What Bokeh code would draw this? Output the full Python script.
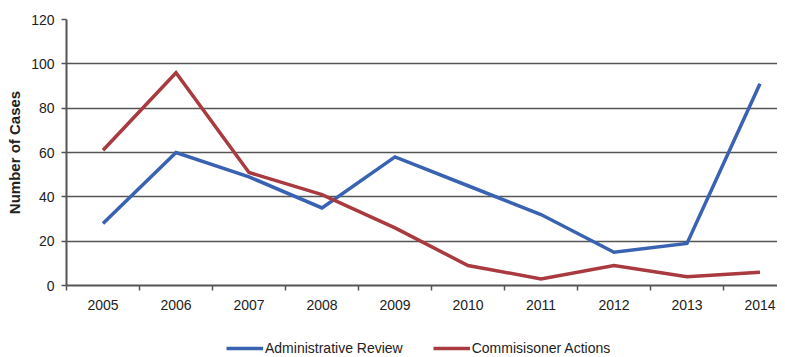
from bokeh.plotting import figure
from bokeh.models import FixedTicker, Legend, LegendItem, Range1d
from bokeh.layouts import column
from bokeh.embed import file_html
from bokeh.resources import INLINE

years = [2005, 2006, 2007, 2008, 2009, 2010, 2011, 2012, 2013, 2014]
admin_review = [28, 60, 49, 35, 58, 45, 32, 15, 19, 91]
commissioner_actions = [61, 96, 51, 41, 26, 9, 3, 9, 4, 6]
y_ticks = [0, 20, 40, 60, 80, 100, 120]
series_names = ["Administrative Review", "Commisisoner Actions"]
series_colors = ["#3a62b2", "#a83a40"]

p = figure(width=777, height=315, output_backend="svg", toolbar_location=None,
           x_range=Range1d(2004.5, 2014.24), y_range=Range1d(0, 120),
           min_border_left=66, min_border_top=19, min_border_right=0,
           min_border_bottom=30)
p.outline_line_color = None
p.background_fill_color = "white"
p.border_fill_color = "white"

p.line(years, admin_review, line_color=series_colors[0], line_width=3.5, line_join="miter")
p.line(years, commissioner_actions, line_color=series_colors[1], line_width=3.5, line_join="miter")

font = "Liberation Sans"
p.xaxis.ticker = FixedTicker(ticks=years, minor_ticks=[y - 0.5 for y in years] + [2014.5])
p.xaxis.major_tick_out = 0
p.xaxis.major_tick_in = 0
p.xaxis.minor_tick_out = 5
p.xaxis.minor_tick_in = 0
p.xaxis.minor_tick_line_color = "#555555"
p.xaxis.minor_tick_line_width = 1.5
p.xaxis.major_label_standoff = 9

p.yaxis.ticker = FixedTicker(ticks=y_ticks, minor_ticks=[])
p.yaxis.major_tick_out = 5
p.yaxis.major_tick_in = 0
p.yaxis.major_label_standoff = 7
p.yaxis.axis_label = "Number of Cases"
p.yaxis.axis_label_text_font_style = "bold"
p.yaxis.axis_label_standoff = 5

for ax in (p.xaxis[0], p.yaxis[0]):
    ax.axis_line_color = "#555555"
    ax.axis_line_width = 2
    ax.major_tick_line_color = "#555555"
    ax.major_tick_line_width = 1.5
    ax.major_label_text_font = font
    ax.major_label_text_font_size = "14px"
    ax.major_label_text_color = "#222222"
    ax.axis_label_text_font = font
    ax.axis_label_text_font_size = "15px"
    ax.axis_label_text_color = "#222222"

p.xgrid.grid_line_color = None
p.ygrid.ticker = FixedTicker(ticks=y_ticks)
p.ygrid.grid_line_color = "#555555"
p.ygrid.grid_line_width = 1.5
p.ygrid.grid_line_alpha = 1.0

# legend strip below the chart
lg = figure(width=777, height=42, output_backend="svg", toolbar_location=None,
            x_range=Range1d(0, 1), y_range=Range1d(0, 1),
            x_axis_type=None, y_axis_type=None,
            min_border_left=0, min_border_right=0, min_border_top=0, min_border_bottom=0)
lg.grid.visible = False
lg.outline_line_color = None
lr = [lg.line([-5, -4], [-5, -4], line_color=c, line_width=3.5) for c in series_colors]

legend = Legend(items=[LegendItem(label=n, renderers=[r]) for n, r in zip(series_names, lr)],
                orientation="horizontal", location=(160, 1))
legend.label_text_font = font
legend.label_text_font_size = "14px"
legend.label_text_color = "#222222"
legend.glyph_width = 37
legend.glyph_height = 14
legend.label_standoff = 2
legend.spacing = 30
legend.padding = 0
legend.margin = 0
legend.border_line_color = None
legend.background_fill_alpha = 0
lg.add_layout(legend, "center")

layout = column(p, lg, spacing=0)
open("out.html", "w").write(file_html(layout, INLINE))
